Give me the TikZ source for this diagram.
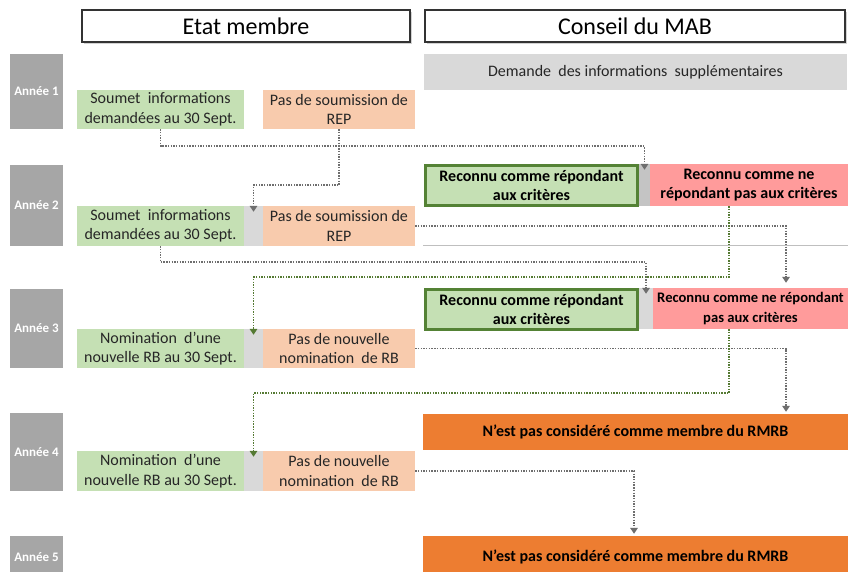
\documentclass[tikz,border=0pt]{standalone}
\usepackage{fontspec}
\setmainfont{Carlito}
\usetikzlibrary{arrows.meta,calc,shadows}
\definecolor{yeargray}{HTML}{A6A6A6}
\definecolor{lgreen}{HTML}{C5E0B4}
\definecolor{lorange}{HTML}{F8CBAD}
\definecolor{gapgray}{HTML}{D9D9D9}
\definecolor{gapgrayd}{HTML}{C4C4C4}
\definecolor{dgreen}{HTML}{548235}
\definecolor{pinkr}{HTML}{FF9B9B}
\definecolor{dorange}{HTML}{ED7D31}
\definecolor{congray}{HTML}{6E6E6E}
\definecolor{congreen}{HTML}{557A33}
\tikzset{
  box/.style={rectangle, inner sep=1pt, align=center, text=black!85,
    font=\fontsize{16}{19.5}\selectfont},
  bbox/.style={box, text=black, font=\fontsize{16}{19.5}\selectfont\bfseries},
  yearbox/.style={rectangle, fill=yeargray, minimum width=53pt, inner sep=0pt,
    text=white, font=\fontsize{13}{15}\selectfont\bfseries},
  hdr/.style={rectangle, draw=black!80, line width=1.2pt, fill=white,
    font=\fontsize{24}{28}\selectfont, minimum height=32pt,
    drop shadow={opacity=0.35, shadow xshift=2pt, shadow yshift=-2pt}},
  gbox/.style={box, fill=lgreen, minimum width=167pt},
  obox/.style={box, fill=lorange, minimum width=152pt},
  gapbox/.style={rectangle, fill=gapgray, minimum width=19pt, inner sep=0pt},
  recbox/.style={bbox, fill=lgreen, draw=dgreen, line width=3pt,
    minimum width=212pt, minimum height=40pt},
  pbox/.style={bbox, fill=pinkr},
  dobox/.style={bbox, fill=dorange, minimum width=425pt},
  gcon/.style={draw=congray, line width=1.8pt, dash pattern=on 1.4pt off 1.3pt,
    -{Triangle[width=7.5pt,length=6pt]}},
  ggcon/.style={gcon, draw=congreen},
  sepline/.style={draw=black!25, line width=0.8pt}
}
\begin{document}
\begin{tikzpicture}[x=1pt,y=-1pt]
\clip (0,0) rectangle (848,571);
\fill[white] (0,0) rectangle (848,571);

% headers
\node[hdr, minimum width=328pt] (hL) at (246,26) {Etat membre};
\node[hdr, minimum width=420pt] (hR) at (635,26) {Conseil du MAB};

% years
\node[yearbox, minimum height=75pt] (y1) at (36.5,91.5) {Année 1};
\node[yearbox, minimum height=81pt] (y2) at (36.5,205.5) {Année 2};
\node[yearbox, minimum height=79pt] (y3) at (36.5,328.5) {Année 3};
\node[yearbox, minimum height=78pt] (y4) at (36.5,452) {Année 4};
\node[yearbox, minimum height=42pt] (y5) at (36.5,557) {Année 5};

% separator
\draw[sepline] (423,245) -- (848,245);

% row 1
\node[gbox, minimum height=39pt] (g1) at (160.5,109.5) {Soumet\ \ informations\\demandées au 30 Sept.};
\node[obox, minimum height=39pt] (o1) at (339,109.5) {Pas de soumission de\\REP};
\node[box, fill=gapgray, minimum width=423pt, minimum height=36pt] (dem) at (635.5,72) {Demande\ \ des informations\ \ supplémentaires};

% row 2
\node[gbox, minimum height=40pt] (g2) at (160.5,226) {Soumet\ \ informations\\demandées au 30 Sept.};
\node[gapbox, minimum height=40pt] (gl2) at (253.5,226) {};
\node[obox, minimum height=40pt] (o2) at (339,226) {Pas de soumission de\\REP};
\node[recbox] (rec2) at (531.5,185.5) {Reconnu comme répondant\\aux critères};
\node[rectangle, fill=gapgrayd, inner sep=0pt, minimum width=11pt, minimum height=42pt] (gr2) at (644.5,185) {};
\node[pbox, minimum width=198pt, minimum height=42pt] (pink2) at (749,185) {Reconnu comme ne\\répondant pas aux critères};

% row 3
\node[gbox, minimum height=39pt] (g3) at (160.5,348.5) {Nomination\ \ d’une\\nouvelle RB au 30 Sept.};
\node[gapbox, minimum height=39pt] (gl3) at (253.5,348.5) {};
\node[obox, minimum height=39pt] (o3) at (339,348.5) {Pas de nouvelle\\nomination\ \ de RB};
\node[recbox] (rec3) at (531.5,309.5) {Reconnu comme répondant\\aux critères};
\node[rectangle, fill=gapgray, inner sep=0pt, minimum width=14pt, minimum height=41pt] (gr3) at (646,308.5) {};
\node[pbox, inner sep=0pt, minimum width=195pt, minimum height=41pt,
  font=\fontsize{14.6}{19.5}\selectfont\bfseries] (pink3) at (750.5,308.5) {Reconnu comme ne répondant\\pas aux critères};

% row 4
\node[gbox, minimum height=40pt] (g4) at (160.5,471) {Nomination\ \ d’une\\nouvelle RB au 30 Sept.};
\node[gapbox, minimum height=40pt] (gl4) at (253.5,471) {};
\node[obox, minimum height=40pt] (o4) at (339,471) {Pas de nouvelle\\nomination\ \ de RB};
\node[dobox, minimum height=36pt] (or4) at (635.5,432) {N’est pas considéré comme membre du RMRB};

% row 5
\node[dobox, minimum height=42pt] (or5) at (635.5,557) {N’est pas considéré comme membre du RMRB};

% helper x positions
\coordinate (x786) at (786,0);
\coordinate (x729) at (729,0);
\coordinate (x634) at (634,0);

% connectors
\draw[gcon] (g1.south) -- ++(0,17) -| ($(gr2.north)+(0,6)$);
\draw[gcon] (o1.south) -- ++(0,56) -| ($(gl2.north)+(0,6)$);
\draw[gcon] (o2.east) -| ($(pink3.north -| x786)+(0,-5)$);
\draw[gcon] (g2.south) -- ++(0,16) -| ($(gr3.north)+(0,6)$);
\draw[ggcon] (pink2.south -| x729) -- ++(0,71) -| ($(gl3.north)+(0,6)$);
\draw[gcon] (o3.east) -| ($(or4.north -| x786)+(0,-2)$);
\draw[ggcon] (pink3.south -| x729) -- ++(0,64) -| ($(gl4.north)+(0,6)$);
\draw[gcon] (o4.east) -| ($(or5.north -| x634)+(0,-2)$);
\end{tikzpicture}
\end{document}
